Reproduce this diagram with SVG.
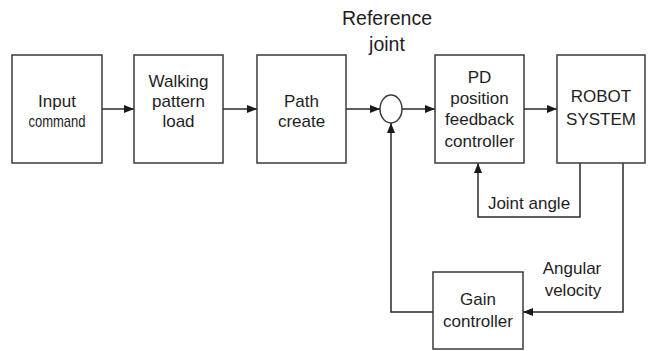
<svg xmlns="http://www.w3.org/2000/svg" width="648" height="351" viewBox="0 0 648 351">
  <style>
    .box { fill: #ffffff; stroke: #3a3a3a; stroke-width: 1.5; }
    .sum { fill: #ffffff; stroke: #3a3a3a; stroke-width: 1.5; }
    .wire { fill: none; stroke: #2a2a2a; stroke-width: 1.5; }
    .lbl { font-family: "Liberation Sans", Arial, sans-serif; font-size: 17px; fill: #1e1e1e; text-anchor: middle; }
    .big { font-size: 19.5px; }
  </style>
  <defs>
    <marker id="arrow" viewBox="0 0 10 8" refX="10" refY="4" markerWidth="10" markerHeight="8" markerUnits="userSpaceOnUse" orient="auto">
      <path d="M0,0 L10,4 L0,8 Z" fill="#1a1a1a"/>
    </marker>
  </defs>
  <rect width="648" height="351" fill="#ffffff"/>

  <!-- connectors -->
  <g id="connectors">
    <line class="wire" x1="102" y1="109" x2="134" y2="109" marker-end="url(#arrow)"/>
    <line class="wire" x1="223" y1="109" x2="257" y2="109" marker-end="url(#arrow)"/>
    <line class="wire" x1="346" y1="109" x2="380" y2="109" marker-end="url(#arrow)"/>
    <line class="wire" x1="402" y1="109" x2="435" y2="109" marker-end="url(#arrow)"/>
    <line class="wire" x1="524" y1="109" x2="557" y2="109" marker-end="url(#arrow)"/>
    <!-- joint angle feedback -->
    <polyline class="wire" points="580,163 580,217 478,217 478,163" marker-end="url(#arrow)"/>
    <!-- angular velocity to gain controller -->
    <polyline class="wire" points="623,163 623,312 523,312" marker-end="url(#arrow)"/>
    <!-- gain controller back to summing junction -->
    <polyline class="wire" points="433,312 391,312 391,123" marker-end="url(#arrow)"/>
  </g>

  <g id="input-command">
    <rect class="box" x="12" y="55" width="90" height="108"/>
    <text class="lbl" x="57" y="107">Input</text>
    <text class="lbl" x="57" y="127" textLength="57" lengthAdjust="spacingAndGlyphs">command</text>
  </g>

  <g id="walking-pattern">
    <rect class="box" x="134" y="55" width="89" height="108"/>
    <text class="lbl" x="178.5" y="87">Walking</text>
    <text class="lbl" x="178.5" y="107">pattern</text>
    <text class="lbl" x="178.5" y="127">load</text>
  </g>

  <g id="path-create">
    <rect class="box" x="257" y="55" width="89" height="108"/>
    <text class="lbl" x="301.5" y="107">Path</text>
    <text class="lbl" x="301.5" y="127">create</text>
  </g>

  <g id="reference-joint">
    <ellipse class="sum" cx="391" cy="109" rx="11" ry="14"/>
    <text class="lbl big" x="387" y="25">Reference</text>
    <text class="lbl big" x="387" y="51">joint</text>
  </g>

  <g id="pd-controller">
    <rect class="box" x="435" y="55" width="89" height="108"/>
    <text class="lbl" x="479.5" y="83">PD</text>
    <text class="lbl" x="479.5" y="104">position</text>
    <text class="lbl" x="479.5" y="125">feedback</text>
    <text class="lbl" x="479.5" y="147">controller</text>
  </g>

  <g id="robot-system">
    <rect class="box" x="557" y="55" width="88" height="108"/>
    <text class="lbl" x="601" y="102">ROBOT</text>
    <text class="lbl" x="601" y="125">SYSTEM</text>
  </g>

  <g id="joint-angle-label">
    <text class="lbl" x="529" y="209">Joint angle</text>
  </g>

  <g id="angular-velocity-label">
    <text class="lbl" x="572" y="274">Angular</text>
    <text class="lbl" x="573" y="296">velocity</text>
  </g>

  <g id="gain-controller">
    <rect class="box" x="433" y="272" width="90" height="77"/>
    <text class="lbl" x="478" y="305">Gain</text>
    <text class="lbl" x="478" y="327">controller</text>
  </g>
</svg>
